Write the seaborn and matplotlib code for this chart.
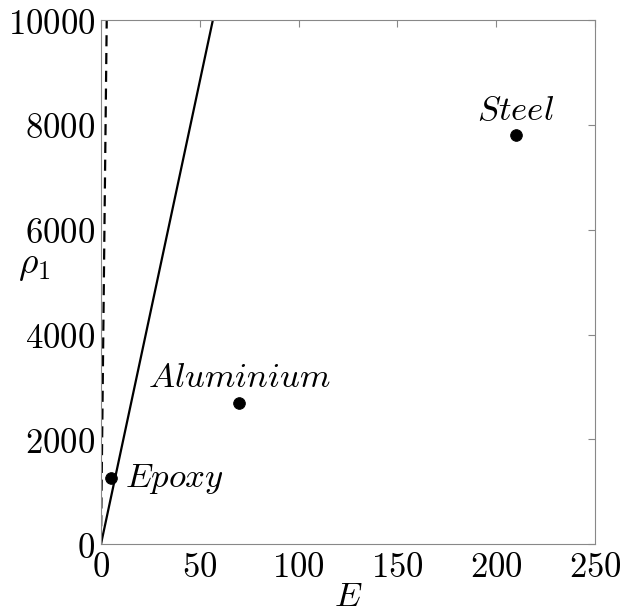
import matplotlib
matplotlib.use("Agg")
import matplotlib.pyplot as plt
import seaborn as sns
import pandas as pd
from matplotlib.ticker import FuncFormatter

# Data
materials = ["Epoxy", "Aluminium", "Steel"]
E_vals = [4.9, 70, 210]
rho_vals = [1265, 2700, 7810]
solid_E = [0, 56.6]
solid_rho = [0, 10000]
dashed_E = [0, 2.9]
dashed_rho = [0, 10000]
x_ticks = [0, 50, 100, 150, 200, 250]
y_ticks = [0, 2000, 4000, 6000, 8000, 10000]

sns.set_style("white")
plt.rcParams["mathtext.fontset"] = "cm"
plt.rcParams["font.family"] = ["DejaVu Serif"]
plt.rcParams["text.color"] = "black"
plt.rcParams["axes.labelcolor"] = "black"
plt.rcParams["xtick.labelcolor"] = "black"
plt.rcParams["ytick.labelcolor"] = "black"

fig = plt.figure(figsize=(6.23, 6.12), dpi=100)
ax = fig.add_axes([0.1621, 0.111, 0.793, 0.856])

sns.lineplot(x=solid_E, y=solid_rho, ax=ax, color="black", lw=1.6)
sns.lineplot(x=dashed_E, y=dashed_rho, ax=ax, color="black", lw=1.6,
             linestyle=(0, (5, 3)))
df = pd.DataFrame({"E": E_vals, "rho": rho_vals, "mat": materials})
sns.scatterplot(data=df, x="E", y="rho", ax=ax, color="black", s=70,
                edgecolor="black", zorder=5)

offsets = {"Epoxy": (7.2, -170, "left"),
           "Aluminium": (0, 290, "center"),
           "Steel": (0, 290, "center")}
for m, x, y in zip(materials, E_vals, rho_vals):
    dx, dy, ha = offsets[m]
    ax.text(x + dx, y + dy, f"${m}$", fontsize=25, ha=ha, va="baseline")

ax.set_xlim(0, 250)
ax.set_ylim(0, 10000)
ax.set_xticks(x_ticks)
ax.set_yticks(y_ticks)
fmt = FuncFormatter(lambda v, p: f"${int(v)}$")
ax.xaxis.set_major_formatter(fmt)
ax.yaxis.set_major_formatter(fmt)
ax.tick_params(direction="in", length=5, width=0.8, color="#888888",
               labelsize=25, top=True, right=True, pad=4)
for s in ax.spines.values():
    s.set_color("#888888")
    s.set_linewidth(0.8)
ax.set_xlabel("$E$", fontsize=25, labelpad=-3)
ax.set_ylabel(r"$\rho_1$", fontsize=27, rotation=0, va="center")
ax.yaxis.set_label_coords(-0.135, 0.532)

fig.savefig("out.png", dpi=100)
